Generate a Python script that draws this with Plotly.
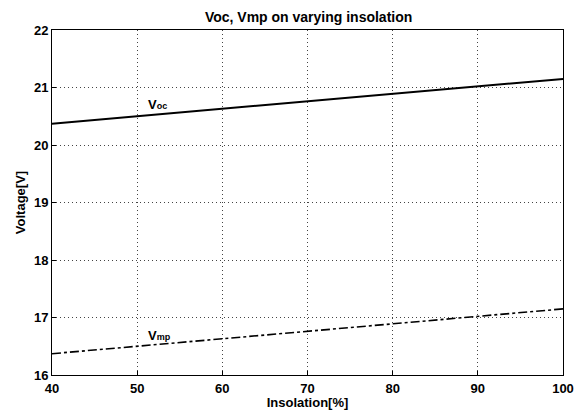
import plotly.graph_objects as go

insolation = [40, 50, 60, 70, 80, 90, 100]
voc = [20.37, 20.50, 20.63, 20.76, 20.89, 21.02, 21.15]
vmp = [16.37, 16.50, 16.63, 16.76, 16.89, 17.02, 17.15]

title = "Voc, Vmp on varying insolation"
x_title = "Insolation[%]"
y_title = "Voltage[V]"
x_ticks = [40, 50, 60, 70, 80, 90, 100]
y_ticks = [16, 17, 18, 19, 20, 21, 22]

FONT = "Liberation Sans, Arial, sans-serif"

fig = go.Figure()
fig.add_trace(go.Scatter(x=insolation, y=voc, mode="lines",
                         line=dict(color="black", width=2), name="Voc"))
fig.add_trace(go.Scatter(x=insolation, y=vmp, mode="lines",
                         line=dict(color="black", width=1.6, dash="dashdot"), name="Vmp"))

fig.add_annotation(x=51, y=20.71, text="<b>V<span style='font-size:9px'>oc</span></b>", showarrow=False,
                   xanchor="left", yanchor="middle", font=dict(family=FONT, size=13, color="black"))
fig.add_annotation(x=51, y=16.69, text="<b>V<span style='font-size:9px'>mp</span></b>", showarrow=False,
                   xanchor="left", yanchor="middle", font=dict(family=FONT, size=13, color="black"))

axis_common = dict(showline=True, linecolor="black", linewidth=1, mirror=True,
                   showgrid=True, gridcolor="#444", gridwidth=1, griddash="1px,3px",
                   zeroline=False, ticks="inside", ticklen=4, tickcolor="black",
                   tickfont=dict(family=FONT, size=13, color="black", weight="bold"))

fig.update_layout(
    width=579, height=410,
    margin=dict(l=52, r=16, t=30, b=35, autoexpand=False),
    paper_bgcolor="white", plot_bgcolor="white",
    showlegend=False,
    title=dict(text=title, x=0.533, xanchor="center", y=0.958, yanchor="middle",
               font=dict(family=FONT, size=14, color="black", weight="bold")),
    xaxis=dict(range=[40, 100], tickvals=x_ticks, ticklabelstandoff=1,
               title=dict(text=x_title, standoff=0,
                          font=dict(family=FONT, size=13, color="black", weight="bold")),
               **axis_common),
    yaxis=dict(range=[16, 22], tickvals=y_ticks,
               title=dict(text=y_title, standoff=5,
                          font=dict(family=FONT, size=13, color="black", weight="bold")),
               **axis_common),
)

fig.write_html("out.html")
